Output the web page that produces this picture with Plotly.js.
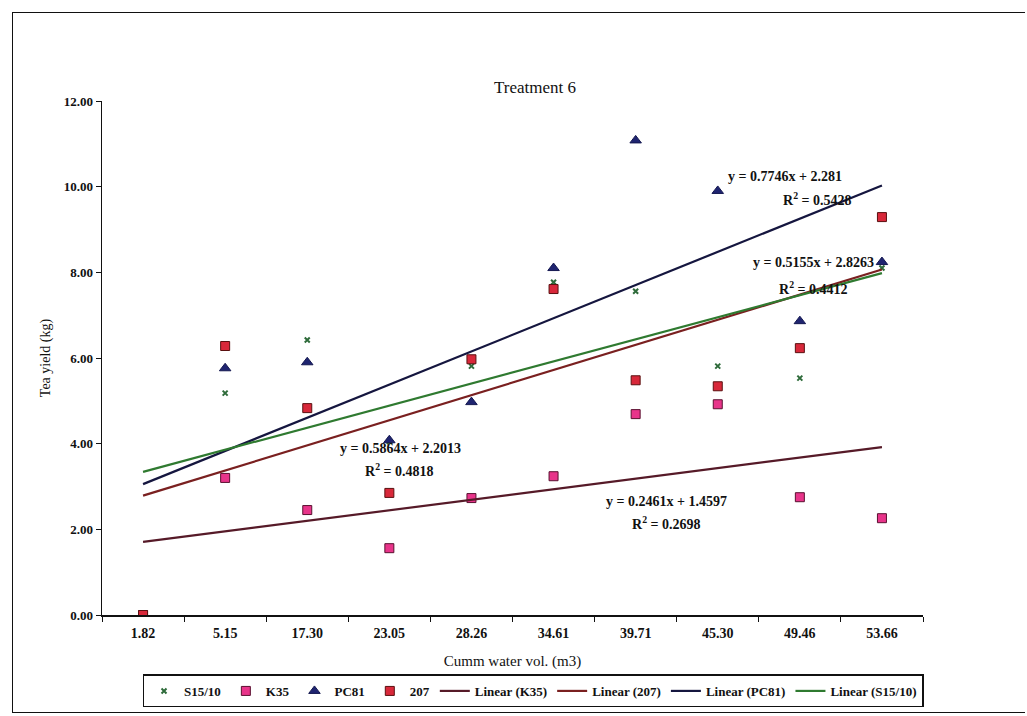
<!DOCTYPE html>
<html>
<head>
<meta charset="utf-8">
<script src="https://cdn.plot.ly/plotly-3.0.1.min.js"></script>
<style>
  html, body { margin: 0; padding: 0; background: #ffffff; }
  #wrap { position: relative; width: 1027px; height: 716px; }
  #chart { position: absolute; left: 0; top: 0; width: 1027px; height: 716px; }
  #frame { position: absolute; left: 12px; top: 12px; width: 1012px; height: 699px;
           border: 1.5px solid #111; border-right: none; pointer-events: none; }
</style>
</head>
<body>
<div id="wrap">
  <div id="chart"></div>
  <div id="frame"></div>
</div>
<script>
// Category labels (cumulative water volume, m3)
const categories = ["1.82", "5.15", "17.30", "23.05", "28.26", "34.61", "39.71", "45.30", "49.46", "53.66"];

// Tea yield (kg) per variety
const s1510 = [0.00, 5.18, 6.42, 4.05, 5.81, 7.77, 7.56, 5.81, 5.53, 8.10];
const k35   = [0.00, 3.20, 2.45, 1.56, 2.73, 3.24, 4.69, 4.92, 2.75, 2.26];
const pc81  = [0.00, 5.76, 5.90, 4.08, 4.97, 8.10, 11.08, 9.90, 6.86, 8.24];
const v207  = [0.00, 6.28, 4.83, 2.85, 5.97, 7.61, 5.48, 5.34, 6.23, 9.29];

// Printed trendline equations (order: K35, 207, PC81, S15/10)
const trendNames = ["Linear (K35)", "Linear (207)", "Linear (PC81)", "Linear (S15/10)"];
const slopes     = ["0.2461", "0.5864", "0.7746", "0.5155"];
const intercepts = ["1.4597", "2.2013", "2.281", "2.8263"];
const r2Values   = ["0.2698", "0.4818", "0.5428", "0.4412"];

const serif = "Liberation Serif, Times New Roman, serif";
const trendColors = ["#561a28", "#7a2020", "#15163f", "#2f7a30"];

const traces = [
  { name: "S15/10", x: categories, y: s1510, type: "scatter", mode: "markers",
    marker: { symbol: "x-thin", size: 5, color: "#2e6b3a", line: { color: "#2e6b3a", width: 2 } } },
  { name: "K35", x: categories, y: k35, type: "scatter", mode: "markers",
    marker: { symbol: "square", size: 9, color: "#e8348a", line: { color: "#5a1030", width: 1 } } },
  { name: "PC81", x: categories, y: pc81, type: "scatter", mode: "markers",
    marker: { symbol: "triangle-up", size: 10, color: "#1f2470", line: { color: "#141850", width: 1 } } },
  { name: "207", x: categories, y: v207, type: "scatter", mode: "markers",
    marker: { symbol: "square", size: 9, color: "#d8283a", line: { color: "#5a1010", width: 1 } } }
];

const n = categories.length;
for (let i = 0; i < trendNames.length; i++) {
  const a = parseFloat(slopes[i]), b = parseFloat(intercepts[i]);
  traces.push({
    name: trendNames[i], type: "scatter", mode: "lines",
    x: [categories[0], categories[n - 1]],
    y: [a * 1 + b, a * n + b],
    line: { color: trendColors[i], width: 2.2 }
  });
}

// label placements (category-index position, y) for equation line and R² line
const annFont = { family: serif, size: 14, color: "#111", weight: "bold" };
const labelPos = [
  { eq: [6.38, 2.66], r2: [6.37, 2.15] },   // K35
  { eq: [3.13, 3.88], r2: [3.12, 3.39] },   // 207
  { eq: [7.82, 10.23], r2: [8.22, 9.71] },  // PC81
  { eq: [8.17, 8.22], r2: [8.17, 7.63] }    // S15/10
];
const annotations = [];
labelPos.forEach((p, i) => {
  annotations.push({ xref: "x", yref: "y", x: p.eq[0], y: p.eq[1],
    text: "y = " + slopes[i] + "x + " + intercepts[i],
    showarrow: false, font: annFont, xanchor: "center", yanchor: "middle" });
  annotations.push({ xref: "x", yref: "y", x: p.r2[0], y: p.r2[1],
    text: "R<sup>2</sup> = " + r2Values[i],
    showarrow: false, font: annFont, xanchor: "center", yanchor: "middle" });
});

const layout = {
  width: 1027, height: 716,
  paper_bgcolor: "#ffffff", plot_bgcolor: "#ffffff",
  margin: { l: 102, r: 104, t: 101, b: 101 },
  font: { family: serif, size: 14, color: "#111" },
  title: { text: "Treatment 6", font: { family: serif, size: 17, color: "#111" },
           xref: "container", x: 0.521, xanchor: "center", yref: "container", y: 0.878, yanchor: "middle" },
  xaxis: {
    type: "category", range: [-0.5, 9.5], showgrid: false, zeroline: false,
    showline: true, linecolor: "#111", linewidth: 1.5,
    ticks: "outside", tickson: "boundaries", ticklen: 5, tickcolor: "#111",
    ticklabelstandoff: 5,
    tickfont: { family: serif, size: 14, color: "#111", weight: "bold" },
    title: { text: "Cumm water vol. (m3)", font: { family: serif, size: 15, color: "#111" }, standoff: 15 }
  },
  yaxis: {
    range: [0, 12], dtick: 2, tickformat: ".2f", showgrid: false, zeroline: false,
    showline: true, linecolor: "#111", linewidth: 1.5,
    ticks: "outside", ticklen: 5, tickcolor: "#111",
    tickfont: { family: serif, size: 13, color: "#111", weight: "bold" },
    title: { text: "Tea yield (kg)", font: { family: serif, size: 14, color: "#111" }, standoff: 10 }
  },
  showlegend: true,
  legend: {
    orientation: "h", xref: "container", yref: "container",
    x: 0.519, xanchor: "center", y: 0.058, yanchor: "top",
    bordercolor: "#111", borderwidth: 1.5, bgcolor: "#ffffff",
    font: { family: serif, size: 13, color: "#111", weight: "bold" },
    itemwidth: 30, tracegroupgap: 0, traceorder: "normal"
  },
  annotations: annotations
};

Plotly.newPlot("chart", traces, layout, { displayModeBar: false, staticPlot: true });
</script>
</body>
</html>
